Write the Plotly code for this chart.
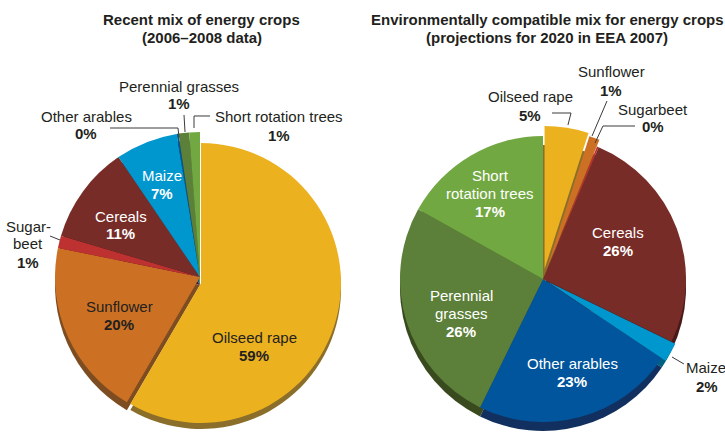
import plotly.graph_objects as go

W, H = 725, 432
crops = ["Oilseed rape", "Sunflower", "Sugarbeet", "Cereals", "Maize", "Other arables", "Perennial grasses", "Short rotation trees"]
recent = [59, 20, 1.4, 11, 7, 0.2, 1.2, 1.2]
compatible = [5, 1.2, 0.2, 26, 2.2, 23, 26, 17]
top_colors = ["#ECB11F", "#CC7124", "#BE3131", "#782C27", "#0096CE", "#00559C", "#5C7F39", "#72A842"]
side_colors = ["#8B6E2A", "#7D4C20", "#6E1F1F", "#47191A", "#00607F", "#12305F", "#384A1E", "#46682A"]
CLEAR = "rgba(0,0,0,0)"


def pie(values, colors, cx, cy, r, pull=None):
    maxpull = max(pull) if pull else 0
    R = r * (1 + maxpull)
    return go.Pie(
        labels=crops, values=values, sort=False, direction="clockwise", rotation=0,
        textinfo="none", hoverinfo="label+percent", showlegend=False, pull=pull or 0,
        marker=dict(colors=colors, line=dict(width=0)),
        domain=dict(x=[(cx - R) / W, (cx + R) / W], y=[max(0, (H - cy - R) / H), (H - cy + R) / H]),
    )


def only(colors, idx):
    return [c if i in idx else CLEAR for i, c in enumerate(colors)]


rest = [1, 2, 3, 4, 5, 6, 7]
fig = go.Figure()
# left chart
fig.add_trace(pie(recent, only(side_colors, rest), 200, 285, 145))
fig.add_trace(pie(recent, only(side_colors, [0]), 201, 289, 140))
fig.add_trace(pie(recent, only(top_colors, rest), 200, 277, 145))
fig.add_trace(pie(recent, only(top_colors, [0]), 201, 283, 140))
# right chart
fig.add_trace(pie(compatible, side_colors, 543, 288, 143))
fig.add_trace(pie(compatible, top_colors, 543, 279, 143, pull=[0.07, 0.05, 0, 0, 0.03, 0, 0, 0]))

BLACK = "#231F20"
# text, x, y, colour, bold
texts = [
    ("Recent mix of energy crops", 202, 20, BLACK, True),
    ("(2006–2008 data)", 202, 37, BLACK, True),
    ("Environmentally compatible mix for energy crops", 547, 20, BLACK, True),
    ("(projections for 2020 in EEA 2007)", 547, 37, BLACK, True),
    ("Perennial grasses", 179, 86, BLACK, False),
    ("1%", 179, 104, BLACK, True),
    ("Other arables", 86, 116, BLACK, False),
    ("0%", 86, 134, BLACK, True),
    ("Short rotation trees", 279, 116, BLACK, False),
    ("1%", 279, 135, BLACK, True),
    ("Sugar-", 28, 226, BLACK, False),
    ("beet", 28, 244, BLACK, False),
    ("1%", 28, 262, BLACK, True),
    ("Maize", 162, 175, "white", False),
    ("7%", 162, 193, "white", True),
    ("Cereals", 121, 216, "white", False),
    ("11%", 121, 234, "white", True),
    ("Sunflower", 119, 306, BLACK, False),
    ("20%", 119, 324, BLACK, True),
    ("Oilseed rape", 254, 337, BLACK, False),
    ("59%", 254, 355, BLACK, True),
    ("Sunflower", 611, 72, BLACK, False),
    ("1%", 611, 90, BLACK, True),
    ("Oilseed rape", 530, 96, BLACK, False),
    ("5%", 530, 115, BLACK, True),
    ("Sugarbeet", 653, 109, BLACK, False),
    ("0%", 653, 127, BLACK, True),
    ("Short", 490, 175, "white", False),
    ("rotation trees", 490, 193, "white", False),
    ("17%", 490, 211, "white", True),
    ("Cereals", 618, 232, "white", False),
    ("26%", 618, 250, "white", True),
    ("Perennial", 461, 295, "white", False),
    ("grasses", 461, 313, "white", False),
    ("26%", 461, 331, "white", True),
    ("Other arables", 572, 363, "white", False),
    ("23%", 572, 381, "white", True),
    ("Maize", 706, 367, BLACK, False),
    ("2%", 707, 386, BLACK, True),
]
for t, x, y, c, b in texts:
    fig.add_annotation(
        x=x / W, y=1 - y / H, xref="paper", yref="paper", text=f"<b>{t}</b>" if b else t,
        showarrow=False, xanchor="center", yanchor="middle",
        font=dict(family="Liberation Sans", size=15, color=c),
    )

leaders = [
    [(184, 115), (185, 132)],
    [(110, 128), (178, 128), (179, 137)],
    [(210, 116), (194, 116), (194, 128)],
    [(50, 236), (60, 240)],
    [(552, 113), (571, 113), (568, 125)],
    [(607, 101), (592, 136)],
    [(635, 126), (603, 126), (595, 143)],
    [(672, 357), (684, 364)],
]
for pts in leaders:
    path = "M " + " L ".join(f"{x / W:.4f},{1 - y / H:.4f}" for x, y in pts)
    fig.add_shape(type="path", path=path, xref="paper", yref="paper", line=dict(color="#3a3a3a", width=1))

fig.update_layout(width=W, height=H, margin=dict(l=0, r=0, t=0, b=0), paper_bgcolor="white", plot_bgcolor="white")
fig.write_html("out.html", config={"displayModeBar": False},
               post_script="document.body.style.margin='0';document.body.style.overflow='hidden';")
